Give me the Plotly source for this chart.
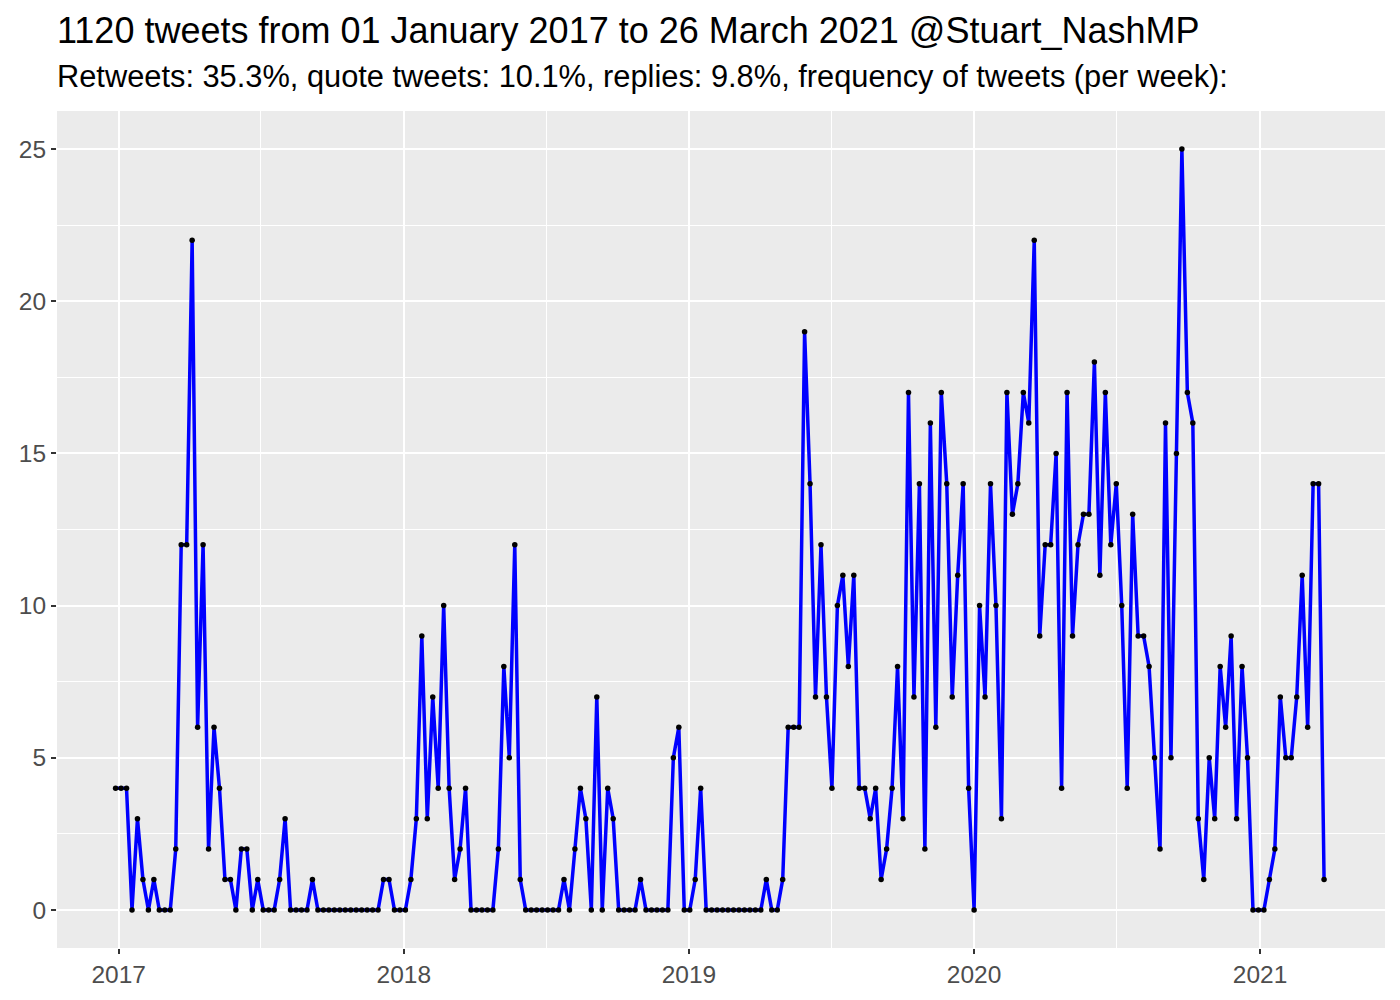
import pandas as pd
import plotly.graph_objects as go

# Weekly tweet counts (week start dates)
week_start = "2016-12-28"
counts = [
    4, 4, 4, 0, 3, 1, 0, 1, 0, 0, 0, 2, 12, 12, 22, 6, 12, 2, 6, 4,
    1, 1, 0, 2, 2, 0, 1, 0, 0, 0, 1, 3, 0, 0, 0, 0, 1, 0, 0, 0,
    0, 0, 0, 0, 0, 0, 0, 0, 0, 1, 1, 0, 0, 0, 1, 3, 9, 3, 7, 4,
    10, 4, 1, 2, 4, 0, 0, 0, 0, 0, 2, 8, 5, 12, 1, 0, 0, 0, 0, 0,
    0, 0, 1, 0, 2, 4, 3, 0, 7, 0, 4, 3, 0, 0, 0, 0, 1, 0, 0, 0,
    0, 0, 5, 6, 0, 0, 1, 4, 0, 0, 0, 0, 0, 0, 0, 0, 0, 0, 0, 1,
    0, 0, 1, 6, 6, 6, 19, 14, 7, 12, 7, 4, 10, 11, 8, 11, 4, 4, 3, 4,
    1, 2, 4, 8, 3, 17, 7, 14, 2, 16, 6, 17, 14, 7, 11, 14, 4, 0, 10, 7,
    14, 10, 3, 17, 13, 14, 17, 16, 22, 9, 12, 12, 15, 4, 17, 9, 12, 13, 13, 18,
    11, 17, 12, 14, 10, 4, 13, 9, 9, 8, 5, 2, 16, 5, 15, 25, 17, 16, 3, 1,
    5, 3, 8, 6, 9, 3, 8, 5, 0, 0, 0, 1, 2, 7, 5, 5, 7, 11, 6, 14,
    14, 1,
]
dates = pd.date_range(week_start, periods=len(counts), freq="7D")

x_ticks = ["2017-01-01", "2018-01-01", "2019-01-01", "2020-01-01", "2021-01-01"]
x_tick_labels = ["2017", "2018", "2019", "2020", "2021"]
x_minor = ["2017-07-02", "2018-07-02", "2019-07-02", "2020-07-01"]
y_ticks = [0, 5, 10, 15, 20, 25]
y_minor = [2.5, 7.5, 12.5, 17.5, 22.5]

title = "1120 tweets from 01 January 2017 to 26 March 2021 @Stuart_NashMP"
subtitle = "Retweets: 35.3%, quote tweets: 10.1%, replies: 9.8%, frequency of tweets (per week):"

fig = go.Figure()
fig.add_trace(go.Scatter(
    x=dates, y=counts, mode="lines+markers",
    line=dict(color="#0000FF", width=3.5),
    marker=dict(color="black", size=5.5),
    showlegend=False,
))

font = "Liberation Sans, Arial, sans-serif"
fig.update_layout(
    width=1392, height=992,
    margin=dict(l=49, r=15, t=103, b=52),
    paper_bgcolor="white", plot_bgcolor="#EBEBEB",
    font=dict(family=font, color="#4D4D4D"),
    xaxis=dict(
        type="date", range=["2016-10-14", "2021-06-10"],
        tickvals=x_ticks, ticktext=x_tick_labels,
        tickfont=dict(size=24.5, color="#4D4D4D"),
        showgrid=True, gridcolor="white", gridwidth=2.4,
        ticks="outside", ticklen=5, tickwidth=1.8, tickcolor="#333333",
        minor=dict(tickvals=x_minor, showgrid=True, gridcolor="white", gridwidth=1.2, ticks=""),
        zeroline=False, showline=False,
    ),
    yaxis=dict(
        range=[-1.25, 26.25],
        tickvals=y_ticks, ticktext=[str(v) for v in y_ticks],
        tickfont=dict(size=24.5, color="#4D4D4D"),
        showgrid=True, gridcolor="white", gridwidth=2.4,
        ticks="outside", ticklen=5, tickwidth=1.8, tickcolor="#333333",
        minor=dict(tickvals=y_minor, showgrid=True, gridcolor="white", gridwidth=1.2, ticks=""),
        zeroline=False, showline=False,
    ),
    annotations=[
        dict(text=title, xref="paper", yref="paper", x=-0.0017, y=(940 - 22) / 837,
             xanchor="left", yanchor="middle", showarrow=False,
             font=dict(size=36, color="black", family=font)),
        dict(text=subtitle, xref="paper", yref="paper", x=-0.0017, y=(940 - 69) / 837,
             xanchor="left", yanchor="middle", showarrow=False,
             font=dict(size=30.8, color="black", family=font)),
    ],
)

fig.write_html("out.html")
